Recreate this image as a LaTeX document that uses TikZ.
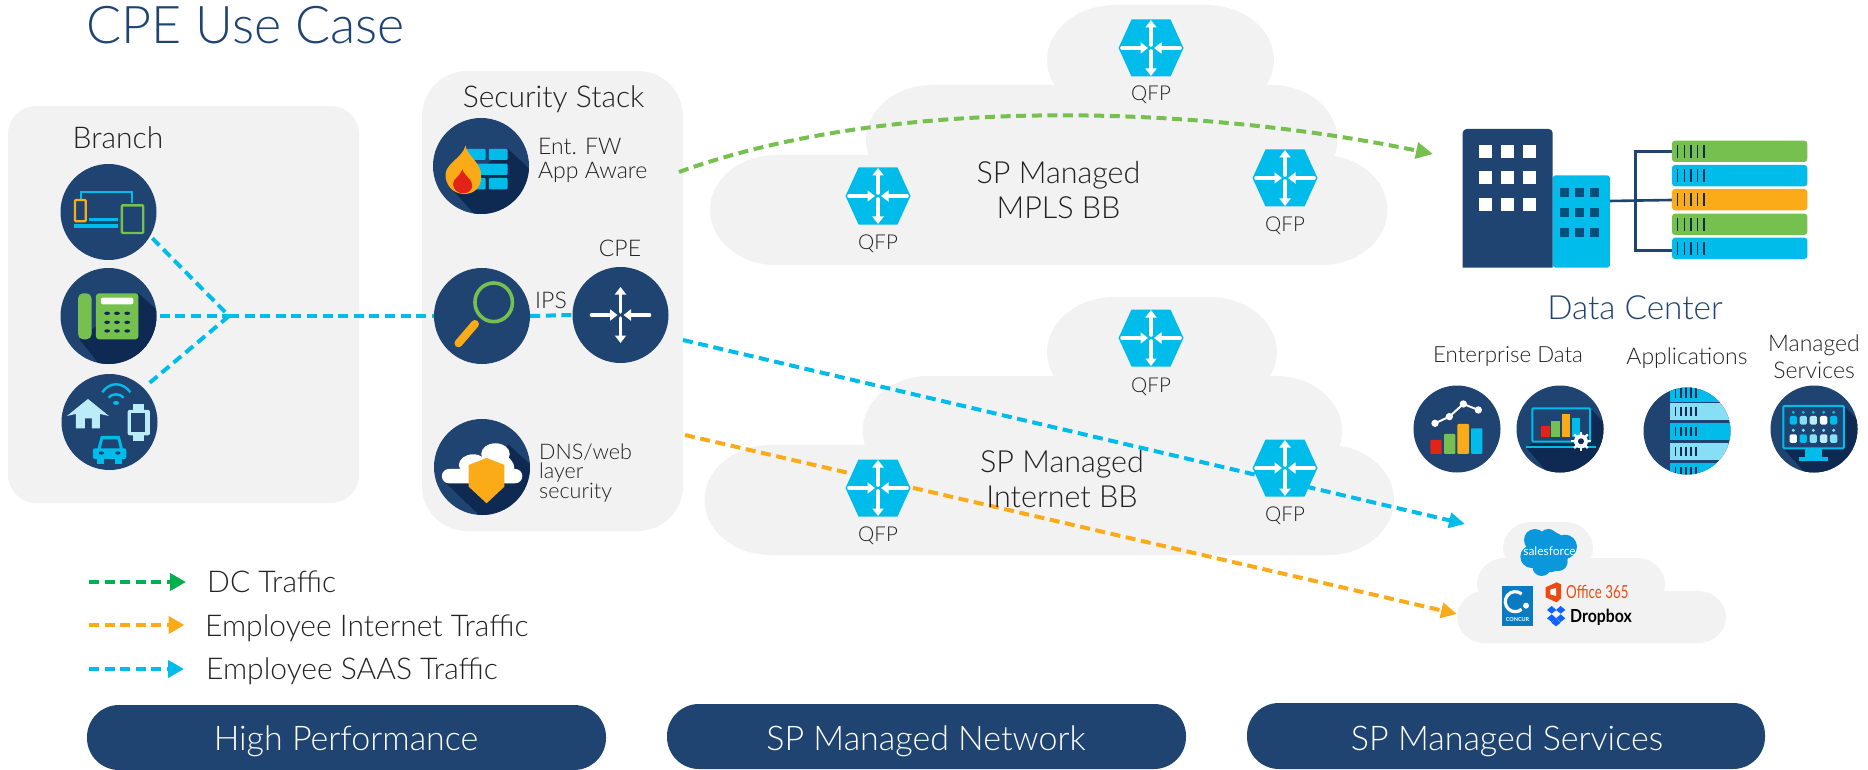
\documentclass[tikz,border=0pt]{standalone}
\usepackage{fontspec}
\usepackage{graphicx}
\setmainfont{Lato}[UprightFont=* Light,BoldFont=* Bold]
\newfontfamily\regfont{Lato}
\usetikzlibrary{arrows.meta}
\definecolor{navy}{HTML}{1F4471}
\definecolor{deep}{HTML}{0F2A52}
\definecolor{cy}{HTML}{00BCEB}
\definecolor{ltcy}{HTML}{86DFF5}
\definecolor{pale}{HTML}{BDECF9}
\definecolor{gr}{HTML}{75C04E}
\definecolor{lgr}{HTML}{00B04F}
\definecolor{org}{HTML}{FBAB18}
\definecolor{rd}{HTML}{E2231A}
\definecolor{panel}{HTML}{F2F2F2}
\definecolor{ink}{HTML}{222222}
\definecolor{teal}{HTML}{00507A}
\definecolor{sfblue}{HTML}{0A97DB}
\definecolor{conc}{HTML}{0A7BC1}
\definecolor{offi}{HTML}{EB4A12}
\definecolor{dbx}{HTML}{0F62FE}
\newcommand{\fs}[1]{\fontsize{#1pt}{#1pt}\selectfont}
\newcommand{\lobe}[6]{\path[fill=panel] (#1+#5,#2) -- (#3-#5,#2) arc[start angle=-90,end angle=0,x radius=#5,y radius=#6] -- (#3,#4-#6) arc[start angle=0,end angle=90,x radius=#5,y radius=#6] -- (#1+#5,#4) arc[start angle=90,end angle=180,x radius=#5,y radius=#6] -- (#1,#2+#6) arc[start angle=180,end angle=270,x radius=#5,y radius=#6] -- cycle;}
\newcommand{\glyph}[2]{\begin{scope}[shift={(#1,#2)}]
\draw[rarrow] (0,-3) -- (0,-28);
\draw[rarrow] (0,3) -- (0,28);
\draw[rarrow] (-29,0) -- (-3,0);
\draw[rarrow] (29,0) -- (3,0);
\end{scope}}
\newcommand{\hexa}[2]{\fill[cy] (#1-32.5,#2) -- (#1-19.5,#2-28.5) -- (#1+19.5,#2-28.5) -- (#1+32.5,#2) -- (#1+19.5,#2+28.5) -- (#1-19.5,#2+28.5) -- cycle; \glyph{#1}{#2}}
\tikzset{
 x=1pt,y=-1pt,
 z1/.style={shift={(0,60)},x=.4464pt,y=-.3333pt},
 z2/.style={shift={(1400,100)},x=.3333pt,y=-.3333pt},
 z3/.style={shift={(1400,490)},x=.3333pt,y=-.3333pt},
 rarrow/.style={white,line width=3.6pt,line cap=round,-{Triangle[length=7.5pt,width=11pt]}},
 icon/.style={circle,fill=navy,inner sep=0pt,minimum size=#1},
 icon/.default=96pt,
 lab/.style={text=ink,inner sep=0pt,align=center,font=\fs{23}},
 labl/.style={lab,anchor=west,align=left},
 qfp/.style={lab,font=\fs{20.5}},
 cloudlab/.style={lab,font=\fs{30.5}},
 legend/.style={lab,anchor=west,font=\fs{30}},
 pill/.style={rectangle,rounded corners=32pt,fill=navy,text=white,inner sep=0pt,anchor=center},
 pilltext/.style={text=white,font=\fs{34},inner sep=0pt},
 flow/.style={line width=4pt,dash pattern=on 10pt off 5.6pt},
 bflow/.style={flow,draw=cy},
 gflow/.style={flow,draw=gr},
 oflow/.style={flow,draw=org},
 tipb/.style={-{Triangle[length=16pt,width=15pt,fill=cy]}},
 tipg/.style={-{Triangle[length=17pt,width=16pt,fill=gr]}},
 tipo/.style={-{Triangle[length=16pt,width=15pt,fill=org]}},
}
\begin{document}
\begin{tikzpicture}
\useasboundingbox (0,0) rectangle (1868,770);
% panels
\fill[panel,rounded corners=28pt] (8,106) rectangle (359,503);
\fill[panel,rounded corners=45pt] (422,71) rectangle (683,531);
% MPLS cloud
\lobe{1047}{5}{1274}{115}{68}{55}
\lobe{866}{85}{1337.5}{195}{66}{55}
\lobe{710}{155}{1387.5}{265}{66}{55}
% Internet cloud
\lobe{1047}{297}{1277}{407}{68}{55}
\lobe{862.6}{376}{1342}{486}{66}{55}
\lobe{704.5}{445}{1394}{555}{66}{55}
% SaaS cloud
\lobe{1503}{522}{1593}{574}{28}{26}
\lobe{1477}{558}{1665}{610}{28}{26}
\lobe{1457}{591}{1726}{643}{28}{26}

% icons (nodes)
\node[icon] (b1) at (108.5,212) {};
\node[icon] (b2) at (108.5,316) {};
\node[icon] (b3) at (109.5,422) {};
\node[icon] (fw) at (481,166) {};
\node[icon] (ips) at (482,316) {};
\node[icon] (cpe) at (620.5,315) {};
\node[icon] (dns) at (482,467) {};
\node[icon=87pt] (ed1) at (1457,429) {};
\node[icon=87pt] (ed2) at (1560,429) {};
\node[icon=87pt] (app) at (1687,431) {};
\node[icon=87pt] (ms) at (1814,429) {};

% connectors
\coordinate (j) at (229,316);
\coordinate (gs) at (679,172);
\coordinate (gt) at (1433,154);
\coordinate (bs) at (683,340);
\coordinate (bt) at (1465,524);
\coordinate (os) at (685,435);
\coordinate (ot) at (1457,614);
\draw[bflow,shorten <=3pt] (b1.-30) -- (j);
\draw[bflow,shorten <=3pt] (b2.east) -- (j);
\draw[bflow,shorten <=8pt] (b3.45) -- (j);
\draw[bflow] (j) -- (ips.west);
\draw[bflow] (ips.east) -- (cpe.west);
\draw[gflow,tipg] (gs) .. controls (900,92) and (1212,108) .. (gt);
\draw[bflow,tipb] (bs) -- (bt);
\draw[oflow,tipo] (os) -- (ot);

% QFP hexes
\hexa{1151}{48}\hexa{878}{196}\hexa{1285}{178}
\hexa{1151}{338}\hexa{878}{488}\hexa{1285}{468}
\node[qfp] (q1) at (1151,95) {QFP};
\node[qfp] (q2) at (878,244) {QFP};
\node[qfp] (q3) at (1285,226) {QFP};
\node[qfp] (q4) at (1151,387) {QFP};
\node[qfp] (q5) at (878,536) {QFP};
\node[qfp] (q6) at (1285,516) {QFP};
\node[cloudlab] (c1a) at (1058.5,175) {SP Managed};
\node[cloudlab] (c1b) at (1058.5,208) {MPLS BB};
\node[cloudlab] (c2a) at (1062,464) {SP Managed};
\node[cloudlab] (c2b) at (1062,497) {Internet BB};

% text
\node[anchor=west,inner sep=0pt,text=navy,font=\fs{52}] (title) at (86,25) {CPE Use Case};
\node[lab,font=\fs{30}] (branch) at (118,138) {Branch};
\node[lab,font=\fs{30}] (sec) at (553.6,99) {Security Stack};
\node[labl] (fwa) at (538,146) {Ent. FW};
\node[labl] (fwb) at (538,172) {App Aware};
\node[lab] (cpel) at (620,248) {CPE};
\node[lab] (ipsl) at (551,300) {IPS};
\node[lab,anchor=west,align=left,font=\fontsize{21.5pt}{19pt}\selectfont] (dnsl) at (539,473) {DNS/web\\layer\\security};
\node[text=navy,inner sep=0pt,font=\fs{33.3}] (dc) at (1635,308) {Data Center};
\node[lab,font=\fs{22.3}] (ent) at (1508,357) {Enterprise Data};
\node[lab] (apl) at (1687,358) {Applications};
\node[lab] (ma) at (1814,345) {Managed};
\node[lab] (mb) at (1814,370) {Services};

% legend
\coordinate (l1a) at (89,582); \coordinate (l1b) at (186,582);
\coordinate (l2a) at (89,625); \coordinate (l2b) at (184.5,625);
\coordinate (l3a) at (89,669); \coordinate (l3b) at (184,669);
\draw[flow,draw=lgr,-{Triangle[length=16pt,width=17pt,fill=lgr]}] (l1a) -- (l1b);
\draw[oflow,-{Triangle[length=16pt,width=17pt,fill=org]}] (l2a) -- (l2b);
\draw[bflow,-{Triangle[length=16pt,width=17pt,fill=cy]}] (l3a) -- (l3b);
\node[legend] (t1) at (207,582) {DC Traffic};
\node[legend] (t2) at (205,628) {Employee Internet Traffic};
\node[legend] (t3) at (206,671) {Employee SAAS Traffic};

% pills
\node[pill,minimum width=519pt,minimum height=65pt] (p1) at (346.5,737.5) {};
\node[pill,minimum width=519pt,minimum height=65pt] (p2) at (926.5,736.5) {};
\node[pill,minimum width=518pt,minimum height=66pt] (p3) at (1506,736) {};
\node[pilltext] (p1t) at (346,741) {High Performance};
\node[pilltext] (p2t) at (926,741) {SP Managed Network};
\node[pilltext] (p3t) at (1507,741) {SP Managed Services};

% ---- branch devices
\begin{scope}[z1]
\draw[cy,line width=2pt] (182,425) -- (182,397) -- (295,397) -- (295,428);
\fill[cy] (165,492) rectangle (265,503);
\fill[cy] (200,474) rectangle (265,484);
\draw[org,line width=2.2pt,rounded corners=1pt,fill=navy] (168,420) rectangle (192,484);
\draw[gr,line width=2.4pt,rounded corners=1pt,fill=navy] (273,436) rectangle (321,519);
\end{scope}
\begin{scope}
\clip (b2.center) circle [radius=48];
\begin{scope}[z1]
\fill[deep] (310,700) -- (420,830) -- (250,960) -- (178,838) -- cycle;
\fill[gr,rounded corners=5pt] (175,700) rectangle (205,838);
\fill[gr,rounded corners=3pt] (215,700) rectangle (310,838);
\fill[white,rounded corners=2pt] (226,713) rectangle (299,733);
\foreach \xx in {240,262,285} \foreach \yy in {760,787,813}
  \fill[deep] (\xx,\yy) circle [x radius=6.5,y radius=5];
\end{scope}
\end{scope}
\begin{scope}[z1]
% home etc
\fill[cy] (260,1029) circle [x radius=7,y radius=6];
\draw[cy,line width=2.4pt] (243,1013) .. controls (250,1000) and (270,1000) .. (277,1013);
\draw[cy,line width=2.4pt] (229,997) .. controls (245,965) and (275,965) .. (292,997);
\fill[pale] (150,1068) -- (197,1017) -- (244,1068) -- (224,1062) -- (224,1105) -- (206,1105) -- (206,1075) -- (190,1075) -- (190,1105) -- (170,1105) -- (170,1062) -- cycle;
\fill[pale] (297,1033) rectangle (322,1143);
\fill[pale,rounded corners=2pt] (286,1050) rectangle (336,1126);
\fill[navy] (294,1060) rectangle (324,1116);
\fill[cy,rounded corners=2pt] (208,1165) rectangle (283,1197);
\fill[cy] (218,1168) -- (226,1128) -- (268,1128) -- (276,1168) -- cycle;
\fill[navy] (226,1165) -- (231,1138) -- (263,1138) -- (268,1165) -- cycle;
\fill[cy] (218,1195) rectangle (233,1211);
\fill[cy] (258,1195) rectangle (273,1211);
\fill[navy] (227,1179) circle [x radius=6,y radius=5];
\fill[navy] (264,1179) circle [x radius=6,y radius=5];
\end{scope}

% ---- firewall
\begin{scope}
\clip (fw.center) circle [radius=48];
\begin{scope}[z1]
\fill[deep] (1137,265) -- (1260,420) -- (1100,520) -- (1015,390) -- cycle;
\fill[cy,rounded corners=1pt] (1045,267) rectangle (1088,300);
\fill[cy,rounded corners=1pt] (1095,267) rectangle (1137,300);
\fill[cy,rounded corners=1pt] (1060,311) rectangle (1137,345);
\fill[cy,rounded corners=1pt] (1060,354) rectangle (1088,388);
\fill[cy,rounded corners=1pt] (1095,354) rectangle (1137,388);
\fill[org] (1043,257) .. controls (1045,285) and (1080,310) .. (1078,350) .. controls (1078,385) and (1060,402) .. (1040,402) .. controls (1015,402) and (998,375) .. (998,345) .. controls (998,310) and (1035,295) .. (1043,257) -- cycle;
\fill[rd] (1036,328) .. controls (1038,345) and (1060,360) .. (1058,378) .. controls (1057,392) and (1048,400) .. (1037,400) .. controls (1025,400) and (1015,388) .. (1015,372) .. controls (1015,355) and (1032,348) .. (1036,328) -- cycle;
\end{scope}
\end{scope}

% ---- IPS
\begin{scope}[z1]
\draw[gr,line width=3.6pt] (1106,727) circle [x radius=42,y radius=58];
\draw[org,line width=8pt,line cap=round] (1064,792) -- (1027,850);
\end{scope}
\glyph{620.5}{315}

% ---- DNS
\begin{scope}
\clip (dns.center) circle [radius=48];
\begin{scope}[z1]
\fill[deep] (1000,1270) -- (1100,1400) -- (1250,1290) -- (1140,1155) -- cycle;
\fill[white,rounded corners=7pt] (990,1227) rectangle (1170,1270);
\fill[white] (1060,1215) circle [x radius=32,y radius=32];
\fill[white] (1110,1182) circle [x radius=32,y radius=32];
\fill[white] (1120,1225) circle [x radius=32,y radius=40];
\fill[org] (1090,1194) -- (1130,1215) -- (1130,1280) -- (1090,1330) -- (1050,1280) -- (1050,1215) -- cycle;
\end{scope}
\end{scope}

% ---- Data centre
\begin{scope}[z2]
\fill[cy,rounded corners=3pt] (458,226) -- (630,226) -- (630,503) -- (458,503) -- cycle;
\fill[navy] (188,503) -- (188,100) [rounded corners=4pt] -- (188,87) -- (458,87) [sharp corners] -- (458,503) -- cycle;
\foreach \xx in {237,303,369} \foreach \yy in {135,214,295}
  \fill[white] (\xx,\yy) rectangle +(39,39);
\foreach \xx in {480,525,570} \foreach \yy in {264,324,384}
  \fill[teal] (\xx,\yy) rectangle +(27,27);
\draw[navy,line width=2.6pt] (630,303) -- (816,300);
\draw[navy,line width=2.6pt] (816,155) -- (706,155) -- (706,452) -- (816,452);
\foreach \yy/\cc in {122/gr,195/cy,267/org,341/gr,413/cy}{
  \fill[\cc,rounded corners=3pt] (816,\yy) rectangle (1222,\yy+64);
  \foreach \xx in {833,853,873,893,912}
    \draw[deep,line width=1.5pt] (\xx,\yy+13) -- (\xx,\yy+51);
}
% enterprise data
\fill[rd,rounded corners=1pt] (91,1020) rectangle (125,1062);
\fill[gr,rounded corners=1pt] (132,1002) rectangle (166,1062);
\fill[org,rounded corners=1pt] (172,972) rectangle (207,1062);
\fill[cy,rounded corners=1pt] (213,985) rectangle (247,1062);
\draw[white,line width=2pt] (105,970) -- (148,950) -- (190,912) -- (235,930);
\foreach \xx/\yy in {105/970,148/950,190/912,235/930}
  \fill[white] (\xx,\yy) circle [radius=11];
\end{scope}

\begin{scope}
\clip (ed2.center) circle [radius=43.5];
\begin{scope}[z2]
\fill[deep] (570,925) -- (660,1020) -- (470,1150) -- (378,1042) -- cycle;
\fill[navy] (397,925) rectangle (570,1025);
\draw[cy,line width=2pt,rounded corners=1pt] (397,925) rectangle (570,1025);
\fill[rd] (424,978) rectangle (449,1010);
\fill[gr] (454,963) rectangle (480,1010);
\fill[org] (485,942) rectangle (510,1010);
\fill[cy] (515,953) rectangle (540,1010);
\draw[cy,line width=2pt] (378,1040) -- (587,1040);
\foreach \aa in {0,45,...,315}
  \draw[white,line width=2.4pt] (543,1024) -- ++(\aa:29);
\fill[white] (543,1024) circle [radius=21];
\fill[deep] (543,1024) circle [radius=9];
\end{scope}
\end{scope}

\begin{scope}
\clip (app.center) circle [radius=43.5];
\begin{scope}[z2]
\foreach \ya/\yb/\cc in {850/905/cy,908/960/ltcy,968/1020/cy,1030/1080/ltcy,1090/1140/cy}{
  \fill[\cc] (810,\ya) rectangle (1000,\yb);
  \foreach \xx in {827,843,858,873,888}
    \draw[deep,line width=1.2pt] (\xx,\ya+12) -- (\xx,\yb-12);
}
\end{scope}
\end{scope}

\begin{scope}
\clip (ms.center) circle [radius=43.5];
\begin{scope}[z2]
\fill[deep] (1332,918) -- (1450,1040) -- (1260,1170) -- (1150,1045) -- cycle;
\fill[navy] (1150,918) rectangle (1332,1045);
\draw[cy,line width=2pt,rounded corners=1pt] (1150,918) rectangle (1332,1045);
\fill[cy] (1215,1045) rectangle (1265,1072);
\fill[cy] (1198,1072) rectangle (1283,1082);
\foreach \xx/\cc/\dd in {1180/cy/white,1210/ltcy/cy,1240/pale/ltcy,1271/white/pale,1301/cy/ltcy}{
  \fill[cy] (\xx,937) circle [radius=5];
  \fill[\cc,rounded corners=1.5pt] (\xx-11,948) rectangle (\xx+11,974);
  \fill[cy!50!white] (\xx,991) circle [radius=5];
  \fill[\dd,rounded corners=1.5pt] (\xx-11,1003) rectangle (\xx+11,1029);
}
\end{scope}
\end{scope}

% ---- SaaS logos
\begin{scope}[z3]
\fill[sfblue] (445,185) circle [radius=62];
\fill[sfblue] (405,150) circle [radius=33];
\fill[sfblue] (445,145) circle [radius=28];
\fill[sfblue] (495,170) circle [radius=36];
\fill[sfblue] (395,200) circle [radius=34];
\fill[sfblue] (425,230) circle [radius=28];
\fill[sfblue] (475,215) circle [radius=28];
\fill[conc] (305,288) rectangle (398,408);
\draw[white,line width=3.2pt] (365,312) arc[start angle=-50,end angle=-310,radius=30];
\fill[white] (378,347) circle [radius=9];
\fill[offi] (437,292) -- (470,277) -- (483,283) -- (483,325) -- (470,337) -- (437,322) -- cycle;
\fill[white] (451,299) -- (468,294) -- (468,318) -- (451,313) -- cycle;
\foreach \xx/\yy in {455/360,482/360,455/385,482/385,468/398}
  \fill[dbx] (\xx,\yy-12) -- (\xx+14,\yy) -- (\xx,\yy+11) -- (\xx-14,\yy) -- cycle;
\end{scope}
\node[text=white,inner sep=0pt,font=\fs{12}\regfont] (sf) at (1549.5,551) {salesforce};
\node[text=white,inner sep=0pt,font=\fs{5.5}\bfseries] (cc) at (1517.5,619.5) {CONCUR};
\node[anchor=west,inner sep=0pt,text=offi,font=\fs{18}\regfont] (o365) at (1566,592) {\scalebox{0.74}[1]{Office 365}};
\node[anchor=west,inner sep=0pt,text=black,font=\fs{18}\bfseries] (dbt) at (1570,617) {\scalebox{0.88}[1]{Dropbox}};
\end{tikzpicture}
\end{document}
